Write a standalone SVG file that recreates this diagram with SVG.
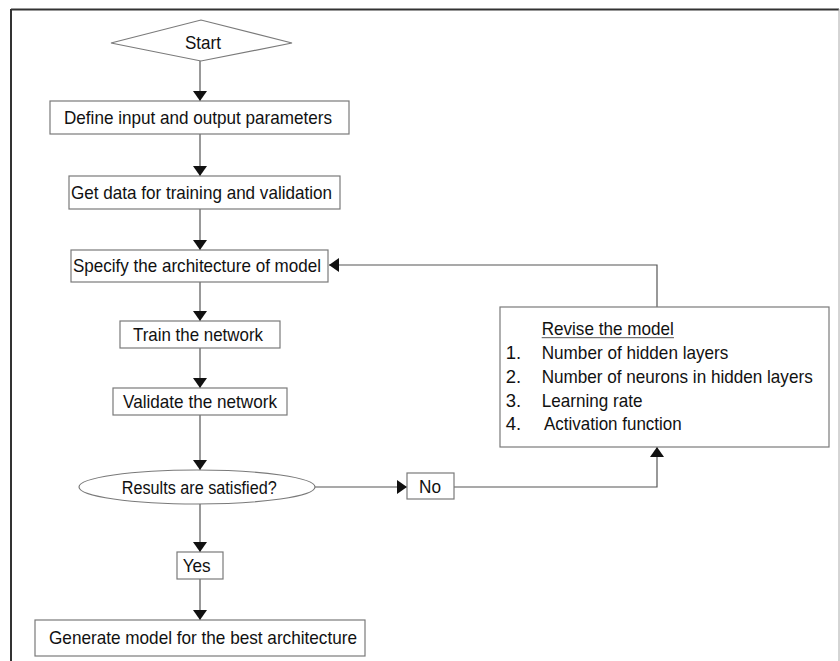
<svg xmlns="http://www.w3.org/2000/svg" width="840" height="661" viewBox="0 0 840 661">
<defs>
<style>
.box{fill:#fff;stroke:#7a7a7a;stroke-width:1.2}
.t{font-family:"Liberation Sans",Arial,sans-serif;font-size:18.5px;fill:#111}
.ln{fill:none;stroke:#555;stroke-width:1.2}
</style>
<marker id="ah" viewBox="0 0 10 14" refX="10" refY="7" markerWidth="10" markerHeight="14" markerUnits="userSpaceOnUse" orient="auto">
<path d="M0,0 L10,7 L0,14 Z" fill="#111"/>
</marker>
</defs>
<rect x="0" y="0" width="840" height="661" fill="#fff"/>
<g id="frame">
<line x1="11" y1="9.5" x2="839" y2="9.5" stroke="#333" stroke-width="2"/>
<line x1="11" y1="9" x2="11" y2="661" stroke="#333" stroke-width="2"/>
<line x1="839" y1="9" x2="839" y2="661" stroke="#aaa" stroke-width="1"/>
</g>
<g id="connectors">
<line class="ln" x1="200" y1="61" x2="200" y2="101" marker-end="url(#ah)"/>
<line class="ln" x1="200" y1="134" x2="200" y2="176" marker-end="url(#ah)"/>
<line class="ln" x1="200" y1="209" x2="200" y2="250" marker-end="url(#ah)"/>
<line class="ln" x1="200" y1="282" x2="200" y2="321" marker-end="url(#ah)"/>
<line class="ln" x1="200" y1="348" x2="200" y2="388" marker-end="url(#ah)"/>
<line class="ln" x1="200" y1="415" x2="200" y2="470" marker-end="url(#ah)"/>
<line class="ln" x1="200" y1="504" x2="200" y2="552" marker-end="url(#ah)"/>
<line class="ln" x1="200" y1="579" x2="200" y2="620" marker-end="url(#ah)"/>
<line class="ln" x1="315" y1="487" x2="407" y2="487" marker-end="url(#ah)"/>
<polyline class="ln" points="454,487 657,487 657,447" marker-end="url(#ah)"/>
<polyline class="ln" points="657,307 657,265 329,265" marker-end="url(#ah)"/>
</g>
<g id="start">
<polygon class="box" points="111,43 201,20 292,43 201,61"/>
<text class="t" x="185" y="49" textLength="36" lengthAdjust="spacingAndGlyphs">Start</text>
</g>
<g id="define">
<rect class="box" x="50" y="101" width="299" height="33"/>
<text class="t" x="64" y="124" textLength="268" lengthAdjust="spacingAndGlyphs">Define input and output parameters</text>
</g>
<g id="getdata">
<rect class="box" x="69" y="176" width="271" height="33"/>
<text class="t" x="71" y="199" textLength="261" lengthAdjust="spacingAndGlyphs">Get data for training and validation</text>
</g>
<g id="specify">
<rect class="box" x="71" y="250" width="257" height="32"/>
<text class="t" x="73" y="272" textLength="248" lengthAdjust="spacingAndGlyphs">Specify the architecture of model</text>
</g>
<g id="train">
<rect class="box" x="120" y="321" width="160" height="27"/>
<text class="t" x="133" y="341" textLength="130" lengthAdjust="spacingAndGlyphs">Train the network</text>
</g>
<g id="validate">
<rect class="box" x="113" y="388" width="174" height="27"/>
<text class="t" x="123" y="408" textLength="154" lengthAdjust="spacingAndGlyphs">Validate the network</text>
</g>
<g id="decision">
<ellipse class="box" cx="197" cy="487" rx="118" ry="17"/>
<text class="t" x="121.7" y="494" textLength="155" lengthAdjust="spacingAndGlyphs" style="font-size:17.5px">Results are satisfied?</text>
</g>
<g id="no">
<rect class="box" x="407" y="473" width="47" height="26"/>
<text class="t" x="419" y="493" textLength="22" lengthAdjust="spacingAndGlyphs">No</text>
</g>
<g id="yes">
<rect class="box" x="177" y="552" width="46" height="27"/>
<text class="t" x="182.7" y="572" textLength="28" lengthAdjust="spacingAndGlyphs">Yes</text>
</g>
<g id="generate">
<rect class="box" x="35" y="620" width="330" height="36"/>
<text class="t" x="49" y="644" textLength="308" lengthAdjust="spacingAndGlyphs">Generate model for the best architecture</text>
</g>
<g id="revise">
<rect class="box" x="500" y="307" width="329" height="140"/>
<text class="t" x="541.7" y="335" textLength="132" lengthAdjust="spacingAndGlyphs">Revise the model</text>
<line x1="541.7" y1="337.7" x2="674" y2="337.7" stroke="#555" stroke-width="1"/>
<text class="t" x="505.7" y="359">1.</text>
<text class="t" x="541.7" y="359" textLength="186.7" lengthAdjust="spacingAndGlyphs">Number of hidden layers</text>
<text class="t" x="505.7" y="383">2.</text>
<text class="t" x="541.7" y="383" textLength="271" lengthAdjust="spacingAndGlyphs">Number of neurons in hidden layers</text>
<text class="t" x="505.7" y="406.5">3.</text>
<text class="t" x="541.7" y="406.5" textLength="100.7" lengthAdjust="spacingAndGlyphs">Learning rate</text>
<text class="t" x="505.7" y="430">4.</text>
<text class="t" x="544" y="430" textLength="137.7" lengthAdjust="spacingAndGlyphs">Activation function</text>
</g>
</svg>
